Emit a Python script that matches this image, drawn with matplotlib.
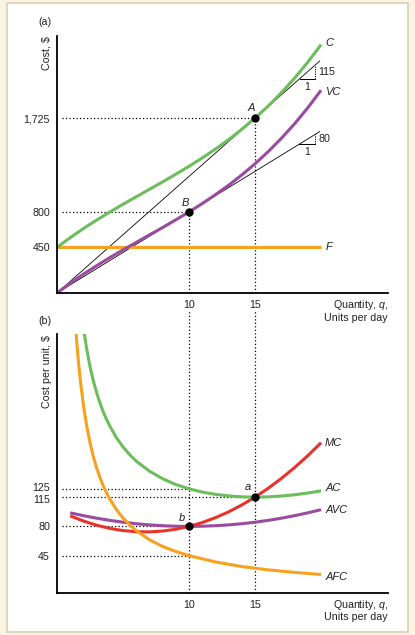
import matplotlib
matplotlib.use("Agg")
from matplotlib import pyplot as plt
from matplotlib.patches import Rectangle
from matplotlib.transforms import ScaledTranslation

plt.rcParams['font.family'] = ['Liberation Sans', 'DejaVu Sans']
plt.rcParams['mathtext.fontset'] = 'custom'
plt.rcParams['mathtext.rm'] = 'Liberation Sans'
plt.rcParams['mathtext.it'] = 'Liberation Sans:italic'

# colours
GREEN = '#6cbd5c'
PURPLE = '#9a4a9f'
ORANGE = '#f7a11f'
RED = '#e8322b'
INK = '#231f20'

# ---- panel (a): total costs, read at q = 0..20 ----
q_top = [0, 1, 2, 3, 4, 5, 6, 7, 8, 9, 10, 11, 12, 13, 14, 15, 16, 17, 18, 19, 20]
vc = [0, 96, 186, 269, 349, 425, 499, 573, 646, 722, 800, 882, 970, 1063, 1165,
      1275, 1395, 1527, 1670, 1828, 2000]
c = [450, 546, 636, 719, 799, 875, 949, 1023, 1096, 1172, 1250, 1332, 1420, 1513,
     1615, 1725, 1845, 1977, 2120, 2278, 2450]
fixed = 450
qA, cA = 15, 1725
qB, vcB = 10, 800
top_ticks = [450, 800, 1725]
top_ticklabels = ['450', '800', '1,725']

# ---- panel (b): per-unit costs ----
q_afc = [1.4, 1.5, 1.6, 1.7, 1.8, 2, 2.25, 2.5, 2.75, 3, 3.25, 3.5, 3.75, 4, 4.5, 5,
         5.5, 6, 7, 8, 9, 10, 12, 14, 16, 18, 20]
afc = [321, 300, 281, 265, 250, 225, 200, 180, 163.6, 150, 138.5, 128.6, 120, 112.5,
       100, 90, 81.8, 75, 64, 56, 50, 45, 37.5, 32, 28, 25, 22.5]
q_ac = [2, 2.25, 2.5, 2.75, 3, 3.25, 3.5, 3.75, 4, 4.5, 5, 5.5, 6, 7, 8, 9, 10, 11, 12,
        13, 14, 15, 16, 17, 18, 19, 20]
ac = [318, 292, 271, 254, 240, 227.6, 217, 207.8, 200, 186, 175, 165.9, 158, 146, 137,
      130, 125, 121, 118.3, 116.4, 115.3, 115, 115.3, 116.3, 117.8, 119.9, 122.5]
q_unit = [1, 2, 3, 4, 5, 6, 7, 8, 9, 10, 11, 12, 13, 14, 15, 16, 17, 18, 19, 20]
avc = [96.2, 92.8, 89.8, 87.2, 85, 83.2, 81.8, 80.8, 80.2, 80, 80.2, 80.8, 81.8, 83.2,
       85, 87.2, 89.8, 92.8, 96.2, 100]
mc = [92.6, 86.4, 81.4, 77.6, 75, 73.6, 73.4, 74.4, 76.6, 80, 84.6, 90.4, 97.4, 105.6,
      115, 125.6, 137.4, 150.4, 164.6, 180]
qa, ya = 15, 115
qb, yb = 10, 80
bot_ticks = [45, 80, 115, 125]

FS = 7.7

fig = plt.figure(figsize=(4.15, 6.35), dpi=100, facecolor='#fbf3e1')
fig.patches.append(Rectangle((7 / 415, 3 / 635), 401 / 415, 629 / 635,
                             transform=fig.transFigure, facecolor='white',
                             edgecolor='#dccfb2', lw=1.2, zorder=-10))

ax1 = fig.add_axes([57 / 415, 342 / 635, 331 / 415, 257 / 635])
ax2 = fig.add_axes([57 / 415, 41.7 / 635, 331 / 415, 259.3 / 635])

for ax in (ax1, ax2):
    ax.set_facecolor('none')
    for s in ('top', 'right'):
        ax.spines[s].set_visible(False)
    for s in ('left', 'bottom'):
        ax.spines[s].set_linewidth(1.3)
        ax.spines[s].set_color('black')
    ax.tick_params(length=0, labelsize=FS, labelcolor=INK, pad=5)
    ax.set_xlim(0, 25.07)
    ax.set_xticks([10, 15])

dot = dict(color='black', lw=0.9, ls=(0, (1, 1.8)))

# ---- (a) ----
ax1.set_ylim(0, 2535)
ax1.set_yticks(top_ticks)
ax1.set_yticklabels(top_ticklabels)

ax1.plot([0.35, qA], [cA, cA], **dot)
ax1.plot([qA, qA], [0, cA], **dot)
ax1.plot([0.35, qB], [vcB, vcB], **dot)
ax1.plot([qB, qB], [0, vcB], **dot)

q_end = 19.9
ax1.plot([0, q_end], [0, cA / qA * q_end], color='black', lw=0.6)
ax1.plot([0, q_end], [0, vcB / qB * q_end], color='black', lw=0.6)

# slope triangles
for slope, y0, lab in ((cA / qA, 2115, '115'), (vcB / qB, 1465, '80')):
    qx = 19.55
    ax1.plot([y0 / slope, qx], [y0, y0], color='black', lw=0.7)
    ax1.plot([qx, qx], [y0, slope * qx], color='black', lw=0.7, ls=(0, (1.2, 1.2)))
    ax1.annotate(lab, (qx, (y0 + slope * qx) / 2), xytext=(3, 0),
                 textcoords='offset pixels', ha='left', va='center', fontsize=FS, color=INK)
    ax1.annotate('1', ((y0 / slope + qx) / 2, y0), xytext=(0, -8),
                 textcoords='offset pixels', ha='center', va='center', fontsize=FS, color=INK)

ax1.plot([q_top[0], q_top[-1]], [fixed, fixed], color=ORANGE, lw=2.2, solid_capstyle='butt')
ax1.plot(q_top, c, color=GREEN, lw=2.2, solid_capstyle='butt')
ax1.plot(q_top, vc, color=PURPLE, lw=2.2, solid_capstyle='butt')
ax1.plot([qA, qB], [cA, vcB], 'o', color='black', ms=5, ls='none', zorder=5)

lab = dict(textcoords='offset pixels', ha='left', va='center', fontsize=8,
           style='italic', color=INK)
ax1.annotate('C', (q_top[-1], c[-1]), xytext=(4, 2), **lab)
ax1.annotate('VC', (q_top[-1], vc[-1]), xytext=(4, -2), **lab)
ax1.annotate('F', (q_top[-1], fixed), xytext=(5, 0), **lab)
ax1.annotate('A', (qA, cA), xytext=(-4, 10), textcoords='offset pixels', ha='center',
             va='center', fontsize=8, style='italic', color=INK)
ax1.annotate('B', (qB, vcB), xytext=(-4, 9), textcoords='offset pixels', ha='center',
             va='center', fontsize=8, style='italic', color=INK)

# ---- (b) ----
ax2.set_ylim(0, 310)
ax2.set_yticks(bot_ticks)
# nudge the crowded 115 / 125 labels apart as in the original
labels = ax2.get_yticklabels()
labels[2].set_transform(labels[2].get_transform() + ScaledTranslation(0, -1.5 / 72, fig.dpi_scale_trans))
labels[3].set_transform(labels[3].get_transform() + ScaledTranslation(0, 1.5 / 72, fig.dpi_scale_trans))

ax2.plot([0.35, qb], [125, 125], **dot)
ax2.plot([0.35, qa], [ya, ya], **dot)
ax2.plot([0.35, qb], [yb, yb], **dot)
ax2.plot([0.35, qb], [45, 45], **dot)
ax2.plot([qb, qb], [0, 337], clip_on=False, **dot)
ax2.plot([qa, qa], [0, 337], clip_on=False, **dot)

ax2.plot(q_unit, avc, color=PURPLE, lw=2.2, solid_capstyle='butt')
ax2.plot(q_unit, mc, color=RED, lw=2.2, solid_capstyle='butt')
ax2.plot(q_afc, afc, color=ORANGE, lw=2.2, solid_capstyle='butt')
ax2.plot(q_ac, ac, color=GREEN, lw=2.2, solid_capstyle='butt')
ax2.plot([qa, qb], [ya, yb], 'o', color='black', ms=5, ls='none', zorder=5)

ax2.annotate('MC', (q_unit[-1], mc[-1]), xytext=(4, 0), **lab)
ax2.annotate('AC', (q_ac[-1], ac[-1]), xytext=(4, 3), **lab)
ax2.annotate('AVC', (q_unit[-1], avc[-1]), xytext=(4, 0), **lab)
ax2.annotate('AFC', (q_afc[-1], afc[-1]), xytext=(4, -3), **lab)
ax2.annotate('a', (qa, ya), xytext=(-7, 10), textcoords='offset pixels', ha='center',
             va='center', fontsize=8, style='italic', color=INK)
ax2.annotate('b', (qb, yb), xytext=(-7, 8), textcoords='offset pixels', ha='center',
             va='center', fontsize=8, style='italic', color=INK)

# ---- texts ----
fig.text(45 / 415, 1 - 22 / 635, '(a)', ha='center', va='center', fontsize=FS, color=INK)
fig.text(45 / 415, 1 - 321 / 635, '(b)', ha='center', va='center', fontsize=FS, color=INK)
fig.text(46.5 / 415, 1 - 36 / 635, 'Cost, $', rotation=90, ha='center', va='top',
         fontsize=FS, color=INK)
fig.text(46.5 / 415, 1 - 335 / 635, 'Cost per unit, $', rotation=90, ha='center', va='top',
         fontsize=FS, color=INK)
fig.text(388 / 415, 1 - 298 / 635, 'Quantity, $q$,\nUnits per day', ha='right', va='top',
         fontsize=FS, color=INK, linespacing=1.1)
fig.text(388 / 415, 1 - 597.5 / 635, 'Quantity, $q$,\nUnits per day', ha='right', va='top',
         fontsize=FS, color=INK, linespacing=1.1)

fig.savefig('out.png', dpi=100, facecolor=fig.get_facecolor())
